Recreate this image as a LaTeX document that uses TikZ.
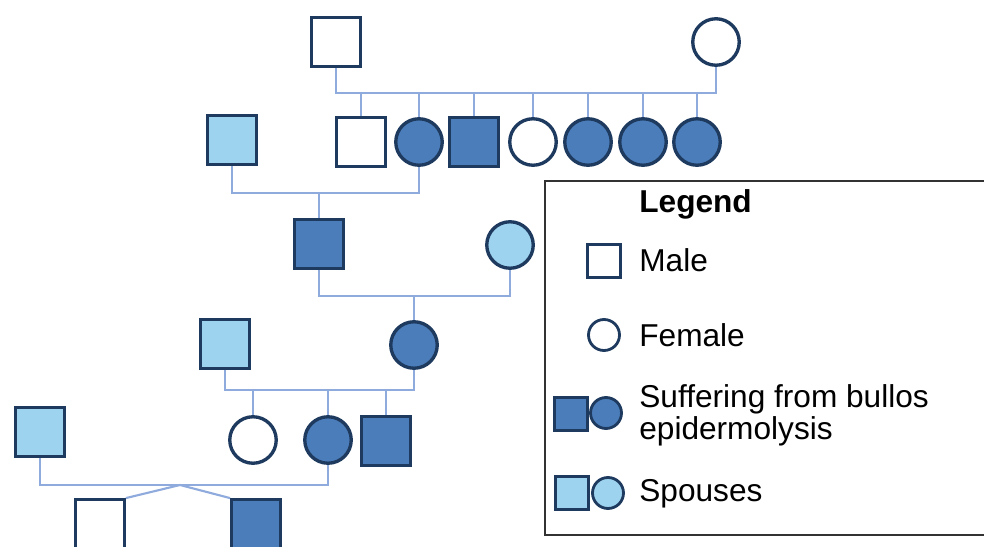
\documentclass[tikz,border=0pt]{standalone}
\usepackage{fontspec}
\setmainfont{Liberation Sans}
\usepackage{tikz}
\usetikzlibrary{shapes,positioning,calc}
\definecolor{navyline}{RGB}{30,58,95}
\definecolor{sickblue}{RGB}{74,125,186}
\definecolor{spouseblue}{RGB}{158,211,240}
\definecolor{linkblue}{RGB}{143,170,220}
\definecolor{boxgray}{RGB}{50,50,50}
\tikzset{
  male/.style={draw=navyline, line width=1.9pt, rectangle, minimum size=0.97cm, inner sep=0pt},
  female/.style={draw=navyline, line width=1.9pt, circle, minimum size=0.93cm, inner sep=0pt},
  smallmale/.style={draw=navyline, line width=1.6pt, rectangle, minimum size=0.66cm, inner sep=0pt},
  smallfemale/.style={draw=navyline, line width=1.6pt, circle, minimum size=0.62cm, inner sep=0pt},
  link/.style={draw=linkblue, line width=1.2pt},
  legtext/.style={anchor=west, inner sep=0pt, font=\fontsize{18}{18.4}\selectfont, align=left}
}
\begin{document}
\begin{tikzpicture}[x=0.02cm,y=-0.02cm]
            \useasboundingbox (0,0) rectangle (984,547);
            % generation 1
            \node[male, fill=white] (g1m) at (336,42) {};
            \node[female, fill=white] (g1f) at (716,42) {};

            % generation 2
            \node[male, fill=spouseblue] (sp1) at (232,140) {};
            \node[male, fill=white] (c1) at (361,142) {};
            \node[female, fill=sickblue] (c2) at (419,142) {};
            \node[male, fill=sickblue] (c3) at (474,142) {};
            \node[female, fill=white] (c4) at (533,142) {};
            \node[female, fill=sickblue] (c5) at (588,142) {};
            \node[female, fill=sickblue] (c6) at (643,142) {};
            \node[female, fill=sickblue] (c7) at (697,142) {};

            % generation 3
            \node[male, fill=sickblue] (n1) at (319,244) {};
            \node[female, fill=spouseblue] (sp2) at (510,245) {};

            % generation 4
            \node[male, fill=spouseblue] (sp3) at (225,344) {};
            \node[female, fill=sickblue] (n2) at (414,345) {};

            % generation 5
            \node[male, fill=spouseblue] (sp4) at (40,432) {};
            \node[female, fill=white] (d1) at (253,440) {};
            \node[female, fill=sickblue] (d2) at (328,440) {};
            \node[male, fill=sickblue] (d3) at (386,441) {};

            % generation 6
            \node[male, fill=white] (w1) at (100,524) {};
            \node[male, fill=sickblue] (w2) at (256,524) {};

            % mating and sibship lines
            \coordinate (s1) at (336,93);
            \coordinate (s2) at (232,193);
            \coordinate (s3) at (319,296);
            \coordinate (s4) at (225,390);
            \coordinate (s5) at (40,485);
            \coordinate (t5) at (180,485);

            \draw[link] (g1m.south) -- (s1) -| (g1f.south);
            \foreach \c in {c1,c2,c3,c4,c5,c6,c7}
                \draw[link] (\c.north) -- (\c.north |- s1);
            \draw[link] (sp1.south) -- (s2) -| (c2.south);
            \draw[link] (n1.north) -- (n1.north |- s2);
            \draw[link] (n1.south) -- (s3) -| (sp2.south);
            \draw[link] (n2.north) -- (n2.north |- s3);
            \draw[link] (sp3.south) -- (s4) -| (n2.south);
            \foreach \c in {d1,d2,d3}
                \draw[link] (\c.north) -- (\c.north |- s4);
            \draw[link] (sp4.south) -- (s5) -| (d2.south);
            \draw[link] (w1.north east) -- (t5) -- (w2.north west);

            % Legend
            \draw[boxgray, line width=1pt] (545,181) rectangle (1000,535);
            \node[legtext, font=\fontsize{18}{18.4}\selectfont\bfseries] (ltitle) at (639,204) {Legend};
            \node[smallmale, fill=white] (lmale) at (604,261) {};
            \node[legtext] (tmale) at (639,260) {Male};
            \node[smallfemale, fill=white] (lfemale) at (604,335) {};
            \node[legtext] (tfemale) at (639,335) {Female};
            \node[smallmale, fill=sickblue] (lsickm) at (571,414) {};
            \node[smallfemale, fill=sickblue] (lsickf) at (606,413) {};
            \node[legtext] (tsick) at (639,415) {Suffering from bullos\\epidermolysis};
            \node[smallmale, fill=spouseblue] (lspm) at (572,493) {};
            \node[smallfemale, fill=spouseblue] (lspf) at (608,493) {};
            \node[legtext] (tsp) at (639,494) {Spouses};
\end{tikzpicture}
\end{document}
